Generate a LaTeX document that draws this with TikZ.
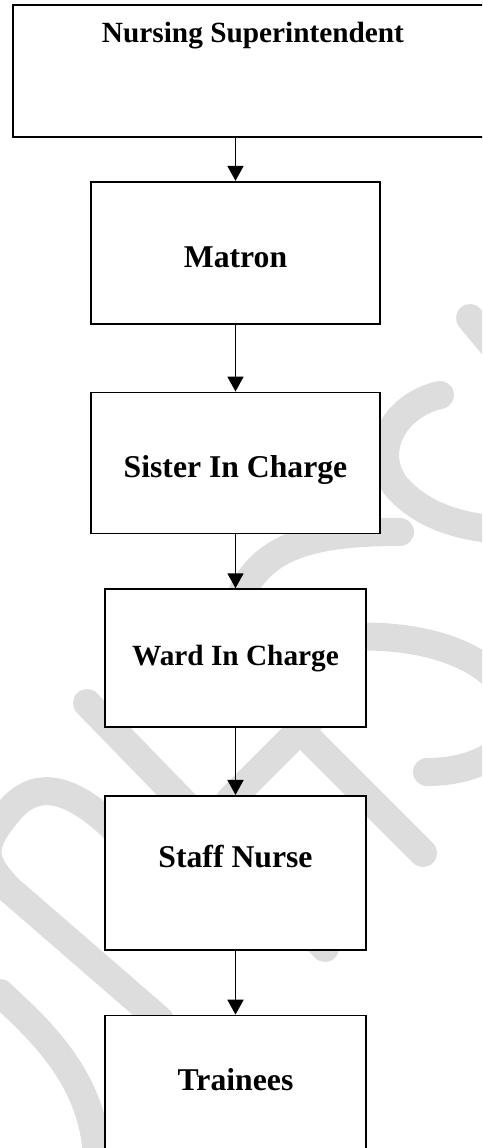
\documentclass[tikz,border=0pt]{standalone}
\usepackage{fontspec}
\setmainfont{Liberation Serif}
\usetikzlibrary{positioning,arrows.meta}
\definecolor{wmgray}{RGB}{221,221,221}
\tikzstyle{rankbox} = [draw=black, fill=white, line width=1.7pt,
    rectangle, inner sep=0pt, font=\bfseries\fontsize{31.7}{38}\selectfont]
\tikzstyle{smalltext} = [font=\bfseries\fontsize{29.3}{35}\selectfont]
\tikzstyle{link} = [line width=1.8pt, -{Triangle[width=16pt,length=15pt]}]
\tikzstyle{wmark} = [draw=wmgray, line width=28pt, line cap=round]

\begin{document}
\begin{tikzpicture}[x=1pt,y=-1pt]
\useasboundingbox (0,0) rectangle (482,1148);
\clip (0,0) rectangle (482,1148);

% watermark behind the chart
\draw[wmark] (470,318) -- (515,372);
\draw[wmark] (440,395) .. controls (395,405) and (370,450) .. (395,485)
    .. controls (420,515) and (460,528) .. (505,530);
\draw[wmark] (235,610) .. controls (255,550) and (300,532) .. (400,532);
\draw[wmark] (330,638) .. controls (480,625) and (540,700) .. (505,745)
    .. controls (485,765) and (455,772) .. (427,772);
\draw[wmark] (87,703) -- (325,948);
\draw[wmark] (230,800) -- (345,685);
\draw[wmark] (300,730) -- (423,853);
\draw[wmark] (130,845) .. controls (80,790) and (40,775) .. (10,810)
    .. controls (-20,845) and (-20,860) .. (10,890) -- (160,1020);
\draw[wmark] (0,993) .. controls (40,1030) and (95,1080) .. (97,1160);

\node [rankbox, smalltext, minimum width=480pt, text height=38pt, text depth=94pt]
    (nurse) at (253,71) {Nursing Superintendent};

\node [rankbox, minimum width=289pt, text height=86pt, text depth=56pt,
    below=43pt of nurse.south, xshift=-17.5pt] (matron) {Matron};
\draw [link] (matron.north |- nurse.south) -- (matron);

\node [rankbox, minimum width=289pt, text height=85pt, text depth=56pt,
    below=67pt of matron] (sister) {Sister In Charge};
\draw [link] (matron) -- (sister);

\node [rankbox, smalltext, minimum width=261pt, text height=76pt, text depth=62pt,
    below=54pt of sister] (ward) {Ward In Charge};
\draw [link] (sister) -- (ward);

\node [rankbox, minimum width=261pt, text height=72pt, text depth=82pt,
    below=67pt of ward] (staff) {Staff Nurse};
\draw [link] (ward) -- (staff);

\node [rankbox, minimum width=261pt, text height=75pt, text depth=110pt,
    below=64pt of staff] (trainee) {Trainees};
\draw [link] (staff) -- (trainee);

\end{tikzpicture}
\end{document}
